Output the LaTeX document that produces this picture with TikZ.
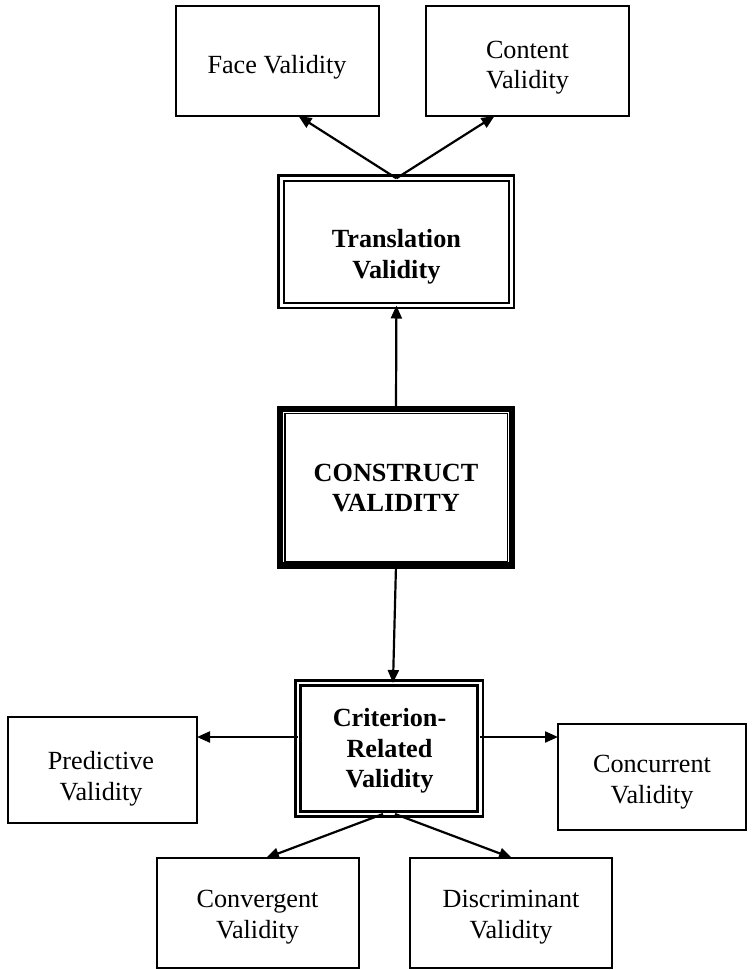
\documentclass[tikz,border=0pt]{standalone}
\usepackage{fontspec}
\setmainfont{Liberation Serif}
\usetikzlibrary{arrows.meta}
\begin{document}
\begin{tikzpicture}[x=1pt,y=-1pt,
  box/.style={draw, line width=2.1pt, outer sep=0pt, inner sep=0pt, minimum width=203pt, minimum height=110pt},
  dbox/.style={draw, double, double distance=2.5pt, line width=2.6pt, outer sep=0pt, inner sep=0pt},
  tbox/.style={draw, line width=6.3pt, outer sep=0pt, inner sep=0pt},
  txt/.style={align=center, inner sep=0pt, font=\fontsize{26.2pt}{30.5pt}\selectfont},
  btxt/.style={align=center, inner sep=0pt, font=\fontsize{26.2pt}{30.5pt}\selectfont\bfseries},
  arr/.style={line width=2.2pt, -{Triangle[length=13pt,width=11pt]}}]
\useasboundingbox (0,0) rectangle (753,970);

% boxes
\node[box] (face) at (277.5,61) {};
\node[box] (content) at (527.5,61) {};
\node[dbox, minimum width=230.3pt, minimum height=127.2pt] (trans) at (396.4,241.9) {};
\node[tbox, minimum width=231.4pt, minimum height=156.3pt] (con) at (396,487.2) {};
\draw[line width=1.2pt] ([xshift=4.7pt,yshift=-4.7pt]con.north west) rectangle ([xshift=-4.5pt,yshift=4.2pt]con.south east);
\node[dbox, minimum width=182.5pt, minimum height=131pt] (crit) at (389,748.5) {};
\node[box, minimum width=189pt, minimum height=106pt] (pred) at (102.5,770) {};
\node[box, minimum width=188pt, minimum height=106pt] (conc) at (652,777) {};
\node[box, minimum width=202pt] (conv) at (258,913) {};
\node[box, minimum width=202pt] (disc) at (511,913) {};

% texts
\node[txt] (facet) at (277,67) {Face Validity};
\node[txt] (contentt) at (527.5,67.5) {Content\\Validity};
\node[btxt] (transt) at (396.4,256.5) {Translation\\Validity};
\node[btxt] (cont) at (396,488) {CONSTRUCT\\VALIDITY};
\node[btxt] (critt) at (389.5,751) {Criterion-\\Related\\Validity};
\node[txt] (predt) at (101,778.5) {Predictive\\Validity};
\node[txt] (conct) at (652,782) {Concurrent\\Validity};
\node[txt] (convt) at (257.5,917) {Convergent\\Validity};
\node[txt] (disct) at (511,917) {Discriminant\\Validity};

% connectors
\draw[arr] (trans.north) -- ([xshift=21pt]face.south);
\draw[arr] (trans.north) -- ([xshift=-33pt]content.south);
\draw[arr] (con.north) -- (trans.south);
\draw[arr] (con.south) -- ([xshift=4pt]crit.north);
\coordinate (cl) at ([yshift=11.5pt]crit.west);
\coordinate (cr) at ([yshift=11.5pt]crit.east);
\draw[arr] (cl) -- (cl -| pred.east);
\draw[arr] (cr) -- (cr -| conc.west);
\draw[arr] ([xshift=-6pt]crit.south) -- ([xshift=8pt]conv.north);
\draw[arr] ([xshift=6pt]crit.south) -- ([xshift=1pt]disc.north);
\end{tikzpicture}
\end{document}
